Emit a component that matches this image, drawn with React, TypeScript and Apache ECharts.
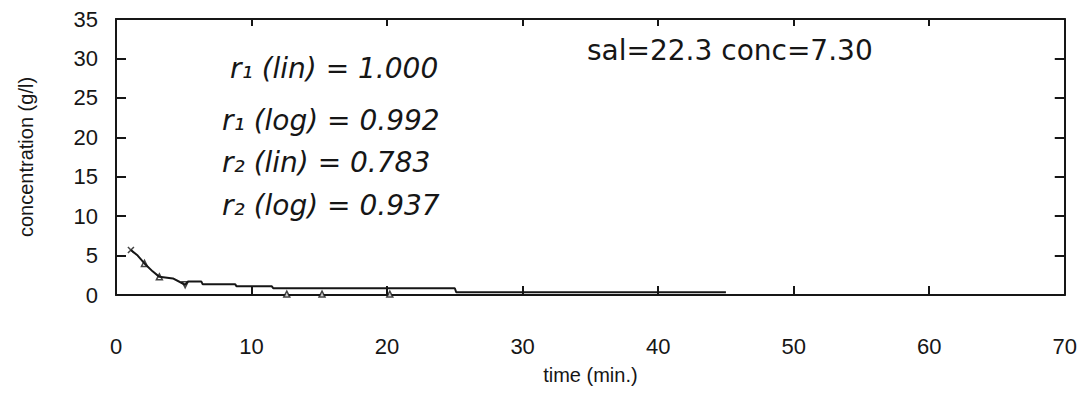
import React, { useEffect, useRef } from "react";
import * as echarts from "echarts";

const xTicks = [0, 10, 20, 30, 40, 50, 60, 70];
const yTicks = [0, 5, 10, 15, 20, 25, 30, 35];

// main concentration trace (time in min, concentration in g/l)
const traceTime = [1.1, 1.6, 2.1, 2.7, 3.2, 4.2, 5.1, 5.3, 6.3, 6.4, 8.8, 8.9, 11.5, 11.6, 25, 25.1, 45];
const traceConc = [5.7, 5.0, 4.0, 3.0, 2.3, 2.1, 1.3, 1.7, 1.7, 1.35, 1.35, 1.1, 1.1, 0.85, 0.85, 0.35, 0.35];

// plotted markers
const markTime = [1.1, 2.1, 3.2, 5.1, 12.6, 15.2, 20.2];
const markConc = [5.7, 4.0, 2.3, 1.3, 0.12, 0.12, 0.12];
const markSymbol = ["path://M0,0L10,10M10,0L0,10", "triangle", "triangle", "triangle", "triangle", "triangle", "triangle"];
const markRotate = [0, 0, 0, 180, 0, 0, 0];

const noteLines = ["r₁ (lin) = 1.000", "r₁ (log) = 0.992", "r₂ (lin) = 0.783", "r₂ (log) = 0.937"];
const infoText = "sal=22.3 conc=7.30";

export default function App() {
  const ref = useRef<HTMLDivElement>(null);
  useEffect(() => {
    if (!ref.current) return;
    const chart = echarts.init(ref.current, null, { renderer: "svg" });
    const ink = "#161616";
    const labelFont = "'Liberation Sans', Arial, sans-serif";
    // vertical centres / left edges of the handwritten notes (page coords minus 8px body margin)
    const noteY = [60, 112, 154, 197];
    const noteX = [222, 214, 214, 214];
    chart.setOption({
      animation: false,
      backgroundColor: "#ffffff",
      grid: { left: 104, right: 15, top: 4, bottom: 91 },
      xAxis: [
        {
          type: "value",
          min: 0,
          max: 70,
          interval: 10,
          axisLine: { show: true, onZero: false, lineStyle: { color: ink, width: 2 } },
          axisTick: { show: true, inside: true, length: 9, lineStyle: { color: ink, width: 2 } },
          axisLabel: {
            color: ink,
            fontSize: 22,
            fontFamily: labelFont,
            margin: 40,
            formatter: (v: number) => (xTicks.includes(v) ? String(v) : ""),
          },
          splitLine: { show: false },
          name: "time (min.)",
          nameLocation: "middle",
          nameGap: 70,
          nameTextStyle: { color: ink, fontSize: 20, fontFamily: labelFont },
        },
        {
          type: "value",
          position: "top",
          min: 0,
          max: 70,
          interval: 10,
          axisLine: { show: true, onZero: false, lineStyle: { color: ink, width: 2 } },
          axisTick: { show: true, inside: true, length: 7, lineStyle: { color: ink, width: 2 } },
          axisLabel: { show: false },
          splitLine: { show: false },
        },
      ],
      yAxis: [
        {
          type: "value",
          min: 0,
          max: 35,
          interval: 5,
          axisLine: { show: true, onZero: false, lineStyle: { color: ink, width: 2 } },
          axisTick: { show: true, inside: true, length: 10, lineStyle: { color: ink, width: 2 } },
          axisLabel: {
            color: ink,
            fontSize: 22,
            fontFamily: labelFont,
            margin: 18,
            formatter: (v: number) => (yTicks.includes(v) ? String(v) : ""),
          },
          splitLine: { show: false },
          name: "concentration (g/l)",
          nameLocation: "middle",
          nameGap: 80,
          nameTextStyle: { color: ink, fontSize: 20, fontFamily: labelFont },
        },
        {
          type: "value",
          position: "right",
          min: 0,
          max: 35,
          interval: 5,
          axisLine: { show: true, onZero: false, lineStyle: { color: ink, width: 2 } },
          axisTick: { show: true, inside: true, length: 10, lineStyle: { color: ink, width: 2 } },
          axisLabel: { show: false },
          splitLine: { show: false },
        },
      ],
      series: [
        {
          type: "line",
          data: traceTime.map((t, i) => [t, traceConc[i]]),
          showSymbol: false,
          lineStyle: { color: ink, width: 2 },
          silent: true,
        },
        {
          type: "scatter",
          data: markTime.map((t, i) => ({
            value: [t, markConc[i]],
            symbol: markSymbol[i],
            symbolRotate: markRotate[i],
          })),
          symbolSize: 6,
          itemStyle: { color: "#ffffff", borderColor: ink, borderWidth: 1.5 },
          silent: true,
        },
      ],
      graphic: [
        ...noteLines.map((s, i) => ({
          type: "text",
          x: noteX[i],
          y: noteY[i],
          style: {
            text: s,
            fill: ink,
            fontSize: 28,
            fontStyle: "italic",
            fontFamily: "'DejaVu Sans', sans-serif",
            verticalAlign: "middle",
          },
        })),
        {
          type: "text",
          x: 579,
          y: 42,
          style: {
            text: infoText,
            fill: ink,
            fontSize: 28,
            fontFamily: "'DejaVu Sans', sans-serif",
            verticalAlign: "middle",
          },
        },
      ],
    });
    return () => chart.dispose();
  }, []);
  return <div ref={ref} style={{ width: 1072, height: 382 }} />;
}
